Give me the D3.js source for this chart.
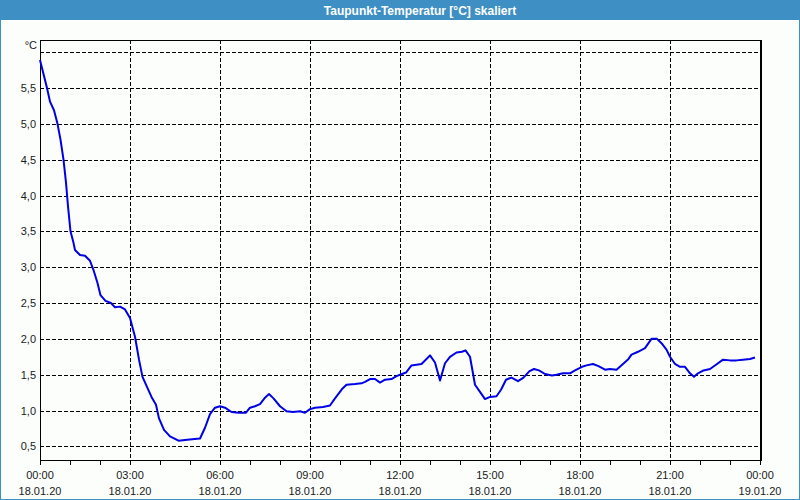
<!DOCTYPE html>
<html>
<head>
<meta charset="utf-8">
<script src="https://cdn.jsdelivr.net/npm/d3@7"></script>
<style>
  html, body { margin: 0; padding: 0; background: #fcfefc; }
  svg { display: block; }
  text { font-family: "Liberation Sans", Arial, sans-serif; }
</style>
</head>
<body>
<svg id="chart" width="800" height="500"></svg>
<script>
// ---- data ----
const chartTitle = "Taupunkt-Temperatur [°C] skaliert";
const unitLabel = "°C";
const startDate = new Date(2020, 0, 18, 0, 0);
const endDate = new Date(2020, 0, 19, 0, 0);
// hours after 18.01.20 00:00
const hours = [0.0,0.23,0.33,0.47,0.58,0.69,0.78,0.87,0.94,1.02,1.11,1.17,1.33,1.50,1.67,1.78,1.91,2.02,2.19,2.36,2.50,2.67,2.83,3.00,3.17,3.30,3.42,3.56,3.72,3.87,3.97,4.13,4.33,4.61,4.83,5.06,5.33,5.50,5.67,5.83,6.00,6.17,6.39,6.61,6.87,7.00,7.17,7.33,7.50,7.64,7.78,8.00,8.22,8.44,8.67,8.83,9.00,9.17,9.44,9.67,9.83,10.06,10.22,10.50,10.72,10.83,11.00,11.17,11.33,11.50,11.72,11.89,12.06,12.20,12.39,12.72,12.89,13.00,13.17,13.33,13.50,13.67,13.89,14.06,14.19,14.33,14.50,14.67,14.83,15.00,15.22,15.36,15.53,15.72,15.94,16.11,16.31,16.47,16.64,16.83,17.06,17.22,17.44,17.67,17.83,18.06,18.22,18.44,18.61,18.83,19.00,19.22,19.44,19.61,19.72,19.94,20.17,20.28,20.39,20.56,20.72,20.89,21.00,21.17,21.33,21.50,21.67,21.80,21.94,22.11,22.33,22.56,22.76,23.00,23.22,23.44,23.67,23.83];
const dewpoint = [5.89,5.50,5.31,5.19,5.00,4.78,4.50,4.18,3.85,3.50,3.34,3.24,3.17,3.16,3.09,2.96,2.78,2.61,2.53,2.50,2.44,2.45,2.41,2.29,2.03,1.71,1.47,1.33,1.19,1.08,0.89,0.73,0.64,0.58,0.59,0.60,0.61,0.76,0.95,1.04,1.06,1.04,0.98,0.97,0.97,1.04,1.06,1.09,1.18,1.23,1.17,1.06,0.99,0.98,0.99,0.97,1.02,1.04,1.05,1.07,1.17,1.30,1.36,1.37,1.38,1.40,1.44,1.44,1.39,1.43,1.44,1.48,1.51,1.53,1.63,1.65,1.72,1.77,1.67,1.42,1.66,1.75,1.81,1.82,1.84,1.75,1.36,1.26,1.16,1.19,1.20,1.29,1.43,1.46,1.41,1.46,1.55,1.58,1.56,1.51,1.49,1.50,1.52,1.52,1.56,1.61,1.63,1.65,1.62,1.57,1.58,1.57,1.65,1.72,1.78,1.82,1.87,1.94,2.00,2.00,1.94,1.85,1.75,1.65,1.61,1.61,1.52,1.47,1.52,1.56,1.58,1.65,1.71,1.70,1.70,1.71,1.72,1.74];
const yTicks = [0.5,1.0,1.5,2.0,2.5,3.0,3.5,4.0,4.5,5.0,5.5];
const yGrid = [0.5,1.0,1.5,2.0,2.5,3.0,3.5,4.0,4.5,5.0,5.5,6.0];
const yDomain = [0.31, 6.17];

// ---- layout ----
const W = 800, H = 500;
const plot = {left: 40, top: 40, right: 760, bottom: 460};

const svg = d3.select("#chart");

// background + outer blue frame
svg.append("rect").attr("x", 0).attr("y", 0).attr("width", W).attr("height", H).attr("fill", "#fcfefc");
svg.append("rect").attr("x", 0.5).attr("y", 0.5).attr("width", W - 1).attr("height", H - 1)
  .attr("fill", "none").attr("stroke", "#3d8fc4").attr("stroke-width", 1);
// title bar
svg.append("rect").attr("x", 0).attr("y", 0).attr("width", W).attr("height", 20).attr("fill", "#3d8fc4");
svg.append("text").attr("x", 420).attr("y", 14.5).attr("text-anchor", "middle")
  .attr("fill", "#ffffff").attr("font-weight", "bold").attr("font-size", "12px").text(chartTitle);

const x = d3.scaleTime().domain([startDate, endDate]).range([plot.left, plot.right]);
const y = d3.scaleLinear().domain(yDomain).range([plot.bottom, plot.top]);

const data = hours.map((h, i) => ({t: d3.timeMinute.offset(startDate, Math.round(h * 60)), v: dewpoint[i]}));

// grid
const grid = svg.append("g").attr("stroke", "#000").attr("stroke-width", 1).attr("stroke-dasharray", "4,2");
grid.selectAll("line.h").data(yGrid).join("line").attr("class", "h")
  .attr("x1", plot.left).attr("x2", plot.right)
  .attr("y1", d => Math.round(y(d)) + 0.5).attr("y2", d => Math.round(y(d)) + 0.5);
const majorTimes = d3.timeHour.every(3).range(startDate, d3.timeMinute.offset(endDate, 1));
grid.selectAll("line.v").data(majorTimes.filter(t => +t > +startDate && +t < +endDate)).join("line").attr("class", "v")
  .attr("y1", plot.top).attr("y2", plot.bottom)
  .attr("x1", d => Math.round(x(d)) + 0.5).attr("x2", d => Math.round(x(d)) + 0.5);

// frame
svg.append("rect").attr("x", plot.left + 0.5).attr("y", plot.top + 0.5)
  .attr("width", plot.right - plot.left).attr("height", plot.bottom - plot.top)
  .attr("fill", "none").attr("stroke", "#000").attr("stroke-width", 1);
svg.append("line").attr("x1", plot.right + 1.5).attr("x2", plot.right + 1.5)
  .attr("y1", plot.top).attr("y2", plot.bottom + 1).attr("stroke", "#000");

// x axis ticks (hourly)
const hourTicks = d3.timeHour.every(1).range(startDate, d3.timeMinute.offset(endDate, 1));
svg.append("g").selectAll("line").data(hourTicks).join("line")
  .attr("x1", d => Math.round(x(d)) + 0.5).attr("x2", d => Math.round(x(d)) + 0.5)
  .attr("y1", plot.bottom).attr("y2", plot.bottom + 5).attr("stroke", "#000");

const fmtTime = d3.timeFormat("%H:%M");
const fmtDate = d3.timeFormat("%d.%m.%y");
const xl = svg.append("g").attr("font-size", "11px").attr("fill", "#1a1a1a").attr("text-anchor", "middle");
xl.selectAll("text.t").data(majorTimes).join("text").attr("class", "t")
  .attr("x", d => x(d)).attr("y", 479).text(d => fmtTime(d));
xl.selectAll("text.d").data(majorTimes).join("text").attr("class", "d")
  .attr("x", d => x(d)).attr("y", 495).text(d => fmtDate(d));

// y labels
const fmtY = d => d3.format(".1f")(d).replace(".", ",");
svg.append("g").attr("font-size", "11px").attr("fill", "#1a1a1a").attr("text-anchor", "end")
  .selectAll("text").data(yTicks).join("text")
  .attr("x", 36).attr("y", d => y(d) + 4).text(fmtY);
svg.append("text").attr("x", 37).attr("y", 49).attr("text-anchor", "end")
  .attr("font-size", "11px").attr("fill", "#1a1a1a").text(unitLabel);

// line
const line = d3.line().x(d => x(d.t)).y(d => y(d.v));
svg.append("path").datum(data).attr("d", line)
  .attr("fill", "none").attr("stroke", "#0000e6").attr("stroke-width", 2)
  .attr("stroke-linejoin", "round");
</script>
</body>
</html>
